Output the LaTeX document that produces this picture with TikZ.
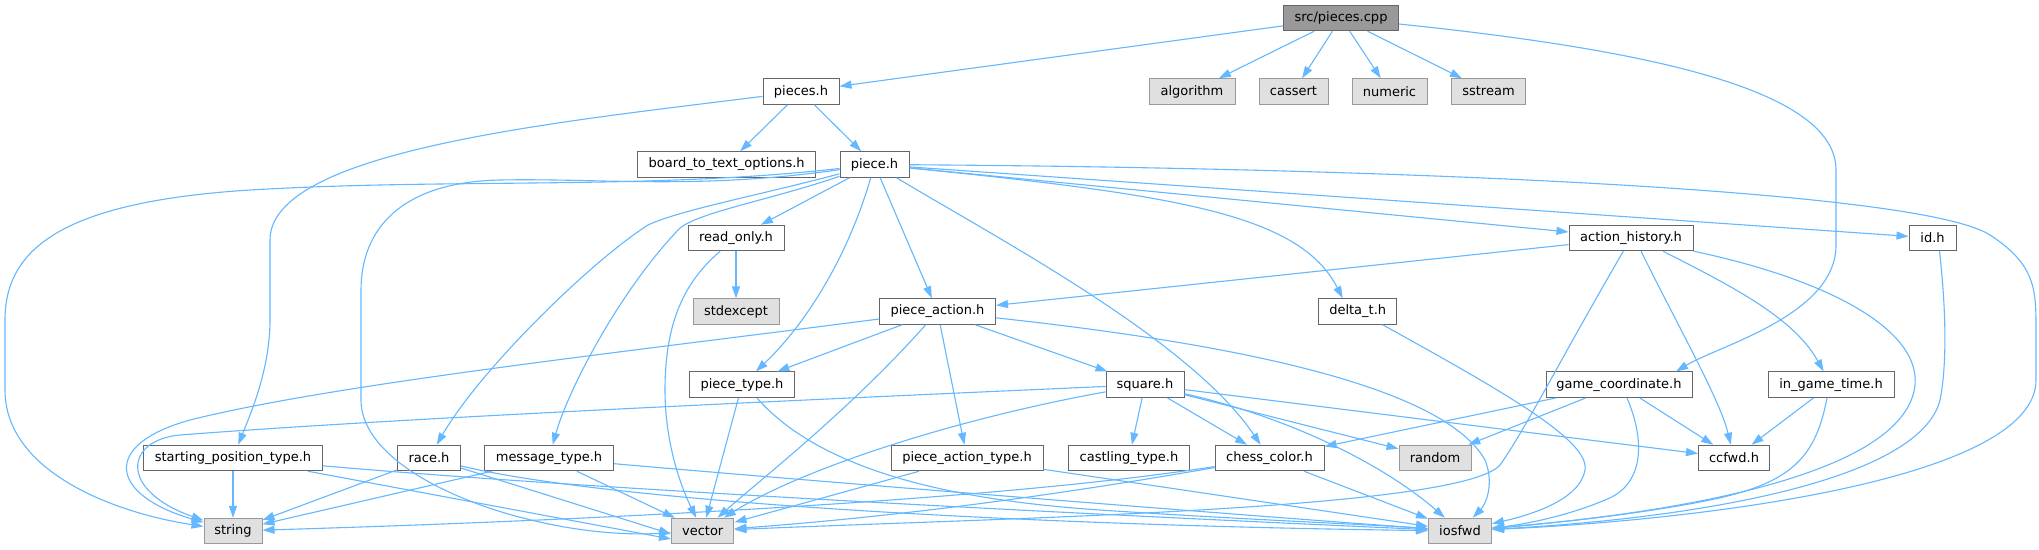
\documentclass[tikz,border=0pt]{standalone}
\usepackage{fontspec}
\setmainfont{DejaVu Sans}
\usetikzlibrary{arrows.meta}
\definecolor{edgec}{HTML}{63B8FF}
\definecolor{bordc}{HTML}{666666}
\definecolor{grayfill}{HTML}{E0E0E0}
\definecolor{graybord}{HTML}{999999}
\definecolor{cppfill}{HTML}{999999}
\begin{document}
\begin{tikzpicture}[x=1pt,y=-1pt,
  nd/.style={draw=bordc, line width=1pt, fill=white, minimum height=25.5pt, inner sep=0pt, font=\fontsize{13}{15}\selectfont},
  gnd/.style={nd, fill=grayfill, draw=graybord},
  cppn/.style={nd, fill=cppfill, draw=bordc},
  e/.style={draw=edgec, line width=1.1pt, -{Triangle[length=12pt,width=8pt]}}]
\fill[white] (0,0) rectangle (2039,549);
\path[use as bounding box] (0,0) rectangle (2039,549);

\node[cppn, minimum width=115pt] (cpp) at (1341,18) {src/pieces.cpp};
\node[nd, minimum width=76pt] (pieces) at (801,91.5) {pieces.h};
\node[gnd, minimum width=86pt] (algorithm) at (1192,91.5) {algorithm};
\node[gnd, minimum width=69pt] (cassert) at (1293.5,91.5) {cassert};
\node[gnd, minimum width=75pt] (numeric) at (1389.5,91.5) {numeric};
\node[gnd, minimum width=74pt] (sstream) at (1488.5,91.5) {sstream};
\node[nd, minimum width=178pt] (board) at (726.7,164.5) {board\_to\_text\_options.h};
\node[nd, minimum width=69pt] (piece) at (874.5,164.5) {piece.h};
\node[nd, minimum width=96pt] (readonly) at (736,238) {read\_only.h};
\node[nd, minimum width=124pt] (history) at (1631,238) {action\_history.h};
\node[nd, minimum width=47pt] (id) at (1932.5,238) {id.h};
\node[gnd, minimum width=86pt] (stdexcept) at (736,311.5) {stdexcept};
\node[nd, minimum width=116pt] (paction) at (937.5,311.5) {piece\_action.h};
\node[nd, minimum width=78pt] (deltat) at (1357.7,311.5) {delta\_t.h};
\node[nd, minimum width=105pt] (ptype) at (742,384.7) {piece\_type.h};
\node[nd, minimum width=78pt] (square) at (1145,384.7) {square.h};
\node[nd, minimum width=146pt] (gcoord) at (1619,384.7) {game\_coordinate.h};
\node[nd, minimum width=126pt] (igt) at (1831,384.7) {in\_game\_time.h};
\node[nd, minimum width=179pt] (spt) at (233,458) {starting\_position\_type.h};
\node[nd, minimum width=63pt] (race) at (429,458) {race.h};
\node[nd, minimum width=129pt] (mtype) at (549,458) {message\_type.h};
\node[nd, minimum width=152pt] (patype) at (967,458) {piece\_action\_type.h};
\node[nd, minimum width=121pt] (castling) at (1129,458) {castling\_type.h};
\node[nd, minimum width=109pt] (color) at (1269.5,458) {chess\_color.h};
\node[gnd, minimum width=72pt] (random) at (1435,458) {random};
\node[nd, minimum width=71pt] (ccfwd) at (1734,458) {ccfwd.h};
\node[gnd, minimum width=58pt] (string) at (233,531) {string};
\node[gnd, minimum width=62.5pt] (vector) at (702.7,531) {vector};
\node[gnd, minimum width=63pt] (iosfwd) at (1460,531) {iosfwd};

% src/pieces.cpp
\draw[e] (cpp) -- (pieces);
\draw[e] (cpp) -- (algorithm);
\draw[e] (cpp) -- (cassert);
\draw[e] (cpp) -- (numeric);
\draw[e] (cpp) -- (sstream);
\draw[e] (cpp) .. controls (1650,50) and (1836,90) .. (1836,170) -- (1836,245) .. controls (1836,315) and (1720,345) .. ([xshift=57pt]gcoord.north);

% pieces.h
\draw[e] (pieces) -- (board);
\draw[e] (pieces) -- (piece);
\draw[e] (pieces) .. controls (560,122) and (270,150) .. (270,240) -- (270,320) .. controls (270,370) and (250,415) .. (spt);

% piece.h
\draw[e] (piece) .. controls (650,190) and (450,178) .. (250,190) .. controls (60,202) and (5,250) .. (5,320) -- (5,390) .. controls (5,470) and (110,512) .. (string);
\draw[e] (piece) .. controls (700,190) and (600,178) .. (500,180) .. controls (400,182) and (361,230) .. (361,290) -- (361,400) .. controls (361,480) and (540,540) .. (vector);
\draw[e] (piece) .. controls (760,195) and (680,210) .. (648,225) .. controls (590,262) and (480,370) .. (race);
\draw[e] (piece) .. controls (770,200) and (700,212) .. (680,228) .. controls (620,290) and (568,390) .. (mtype);
\draw[e] (piece) -- (readonly);
\draw[e] (piece) .. controls (850,250) and (810,320) .. (ptype);
\draw[e] (piece) -- (paction);
\draw[e] (piece) .. controls (1000,240) and (1190,340) .. (color);
\draw[e] (piece) .. controls (1180,195) and (1300,215) .. ([xshift=-15pt]deltat.north);
\draw[e] (piece) -- (history);
\draw[e] (piece) -- (id);
\draw[e] (piece) .. controls (1400,168) and (1920,190) .. (1990,235) .. controls (2036,265) and (2036,290) .. (2036,330) -- (2036,380) .. controls (2036,480) and (1700,520) .. (iosfwd);

% read_only.h
\draw[e] (readonly) -- (stdexcept);
\draw[e] (readonly) .. controls (680,285) and (665,330) .. (665,390) .. controls (665,450) and (685,495) .. (vector);

% action_history.h
\draw[e] (history) -- (paction);
\draw[e] (history) .. controls (1560,360) and (1525,430) .. (1500,465) .. controls (1460,510) and (1000,518) .. (vector);
\draw[e] ([xshift=10pt]history.south) .. controls (1680,330) and (1720,400) .. (ccfwd);
\draw[e] ([xshift=32pt]history.south) .. controls (1740,290) and (1795,320) .. (igt);
\draw[e] (history) .. controls (1830,280) and (1920,330) .. (1915,385) .. controls (1905,480) and (1650,515) .. (iosfwd);

% id.h
\draw[e] ([xshift=7pt]id.south) .. controls (1945,300) and (1948,360) .. (1940,400) .. controls (1920,480) and (1700,518) .. (iosfwd);

% delta_t.h
\draw[e] ([xshift=25pt]deltat.south) .. controls (1500,390) and (1590,440) .. (1585,470) .. controls (1580,500) and (1530,515) .. (iosfwd);

% piece_action.h
\draw[e] (paction) .. controls (600,355) and (330,385) .. (190,420) .. controls (100,445) and (110,495) .. (string);
\draw[e] (paction) -- (ptype);
\draw[e] (paction) .. controls (850,410) and (760,480) .. (vector);
\draw[e] (paction) -- (patype);
\draw[e] (paction) -- (square);
\draw[e] (paction) .. controls (1200,340) and (1440,380) .. (1485,460) .. controls (1495,485) and (1485,505) .. (iosfwd);

% piece_type.h
\draw[e] (ptype) -- (vector);
\draw[e] ([xshift=15pt]ptype.south) .. controls (820,470) and (950,500) .. (1100,510) .. controls (1250,520) and (1380,525) .. (iosfwd);

% square.h
\draw[e] (square) .. controls (800,400) and (400,418) .. (180,435) .. controls (125,440) and (118,490) .. (string);
\draw[e] (square) .. controls (950,420) and (800,470) .. (vector);
\draw[e] (square) -- (castling);
\draw[e] (square) -- (color);
\draw[e] (square) -- (random);
\draw[e] (square) .. controls (1300,420) and (1390,470) .. (iosfwd);
\draw[e] (square) -- (ccfwd);

% game_coordinate.h
\draw[e] (gcoord) -- (color);
\draw[e] (gcoord) -- (random);
\draw[e] (gcoord) -- (ccfwd);
\draw[e] ([xshift=8pt]gcoord.south) .. controls (1645,440) and (1645,485) .. (1605,500) .. controls (1565,517) and (1520,525) .. (iosfwd);

% in_game_time.h
\draw[e] (igt) -- (ccfwd);
\draw[e] ([xshift=-4pt]igt.south) .. controls (1815,460) and (1790,485) .. (1700,502) .. controls (1620,517) and (1540,524) .. (iosfwd);

% starting_position_type.h
\draw[e] (spt) -- (string);
\draw[e] ([xshift=75pt]spt.south) -- ([yshift=-8pt]vector.west);
\draw[e] (spt) .. controls (600,490) and (1100,515) .. (iosfwd);

% race.h
\draw[e] (race) -- (string);
\draw[e] (race) -- ([yshift=-3pt]vector.west);
\draw[e] (race) .. controls (600,500) and (1000,525) .. (iosfwd);

% message_type.h
\draw[e] (mtype) -- (string);
\draw[e] (mtype) -- (vector);
\draw[e] (mtype) .. controls (800,480) and (1200,512) .. (iosfwd);

% piece_action_type.h
\draw[e] (patype) -- (vector);
\draw[e] (patype) -- (iosfwd);

% chess_color.h
\draw[e] (color) .. controls (1000,500) and (600,520) .. (string);
\draw[e] (color) .. controls (1000,505) and (850,520) .. (vector);
\draw[e] (color) -- (iosfwd);
\end{tikzpicture}
\end{document}
